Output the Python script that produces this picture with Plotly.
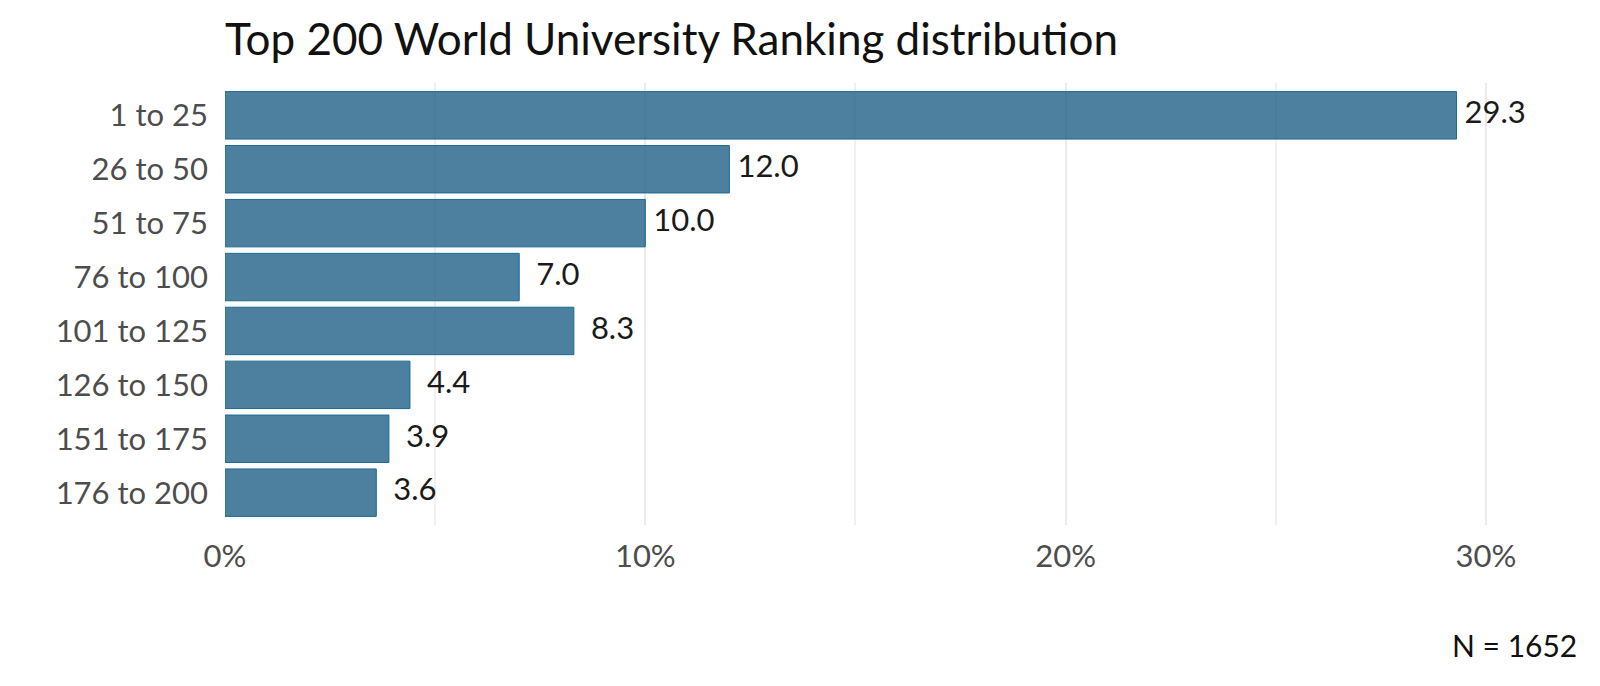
import plotly.graph_objects as go

# ranking bands and share of universities (%)
ranks = ["1 to 25", "26 to 50", "51 to 75", "76 to 100",
         "101 to 125", "126 to 150", "151 to 175", "176 to 200"]
shares = [29.3, 12.0, 10.0, 7.0, 8.3, 4.4, 3.9, 3.6]
x_ticks = [0, 10, 20, 30]
x_tick_text = ["0%", "10%", "20%", "30%"]
n_total = 1652

label_nudge = 0.92  # labels sit a little to the right of the bar end

fig = go.Figure()

fig.add_trace(
    go.Bar(
        x=shares,
        y=ranks,
        orientation="h",
        width=0.88,
        marker=dict(color="rgba(31,96,134,0.80)", line=dict(color="#1d6a93", width=1)),
        hoverinfo="skip",
    )
)

fig.add_trace(
    go.Scatter(
        x=[v + label_nudge for v in shares],
        y=ranks,
        mode="text",
        text=[f"{v:.1f}" for v in shares],
        textposition="middle center",
        textfont=dict(size=31, color="#1a1a1a"),
        cliponaxis=False,
        hoverinfo="skip",
    )
)

fig.update_layout(
    width=1600,
    height=686,
    margin=dict(l=217, r=59, t=74.5, b=168.5),
    paper_bgcolor="white",
    plot_bgcolor="white",
    font=dict(family="Lato", size=31, color="#4d4d4d"),
    title=dict(
        text="Top 200 World University Ranking distribution",
        x=217 / 1600, xanchor="left",
        y=0.954, yanchor="middle",
        font=dict(size=44, color="#111111"),
    ),
    showlegend=False,
    annotations=[
        dict(
            text=f"N = {n_total}",
            xref="paper", yref="paper",
            x=1.0227, y=-0.272,
            xanchor="right", yanchor="middle",
            showarrow=False,
            font=dict(size=30, color="#111111"),
        )
    ],
)

fig.update_xaxes(
    range=[0, 31.5],
    tickvals=x_ticks,
    ticktext=x_tick_text,
    showgrid=True,
    gridcolor="#ebebeb",
    gridwidth=2,
    minor=dict(dtick=5, showgrid=True, gridcolor="#f0f0f0", gridwidth=1.5),
    zeroline=False,
    showline=False,
    ticks="",
    ticklabelstandoff=10,
    automargin=False,
)

fig.update_yaxes(
    categoryorder="array",
    categoryarray=ranks,
    autorange=False,
    range=[7.6, -0.6],
    showgrid=False,
    ticks="",
    ticklabelstandoff=16,
    automargin=False,
)

fig.write_html("out.html")
